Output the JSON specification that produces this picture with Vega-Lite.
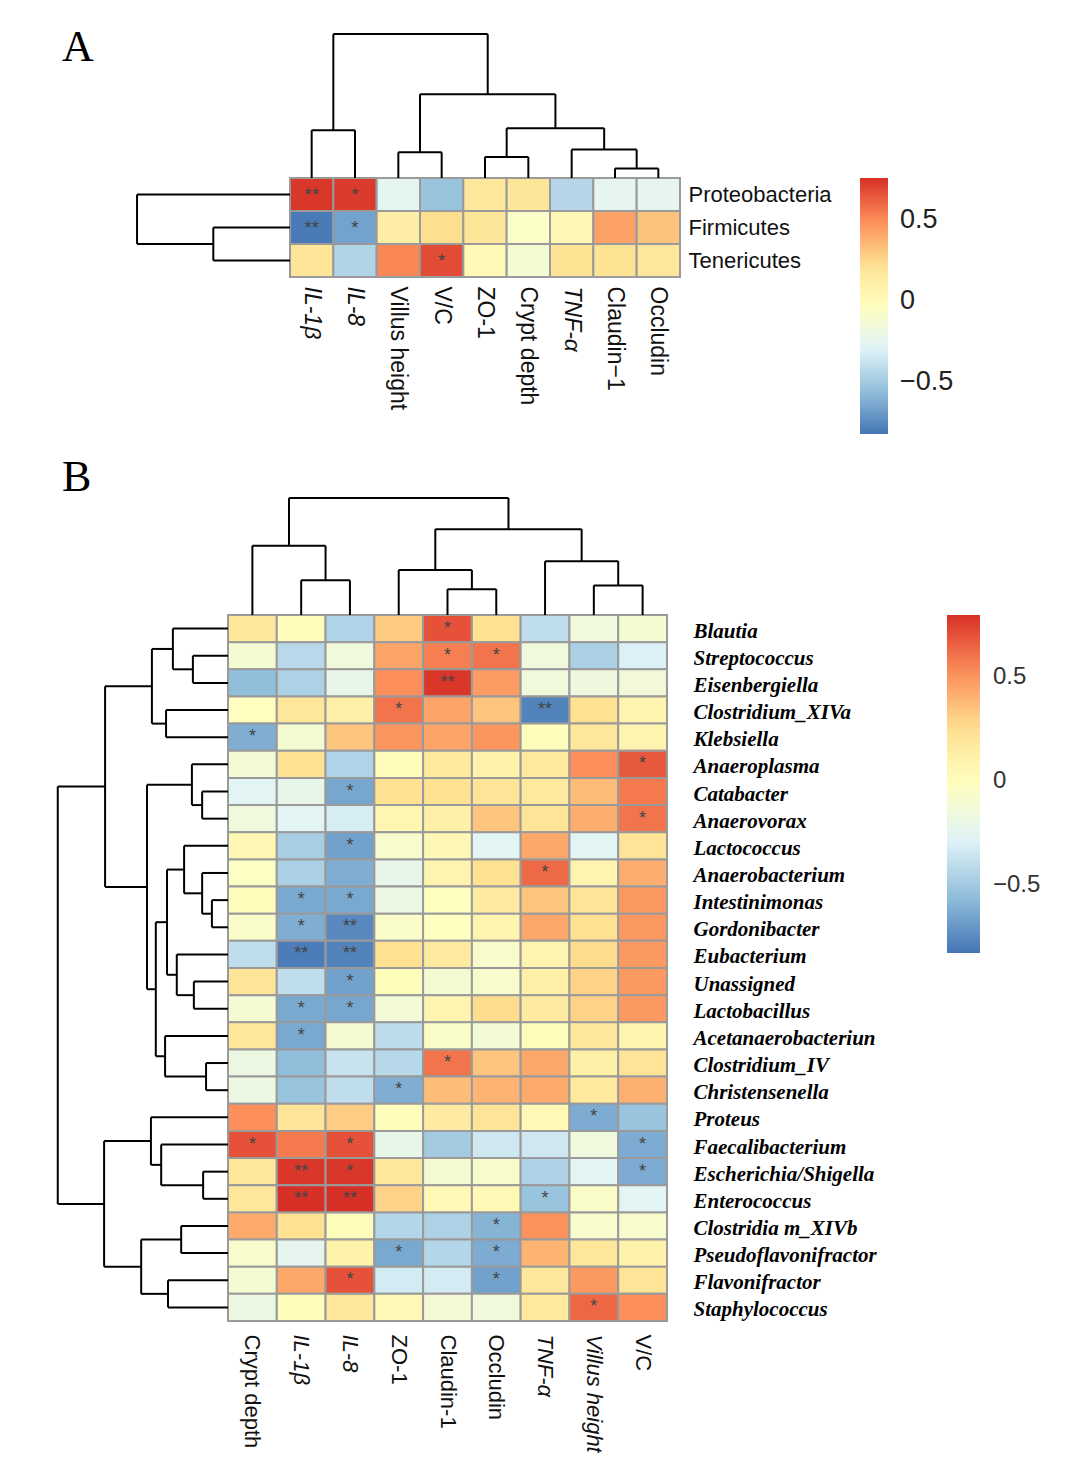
{
  "$schema": "https://vega.github.io/schema/vega-lite/v6.json",
  "background": "white",
  "padding": {"left": 56, "top": 26, "right": 0, "bottom": 0},
  "spacing": 21,
  "config": {"view": {"stroke": null}, "font": "Liberation Sans"},
  "resolve": {"scale": {"color": "independent"}},
  "datasets": {
    "heatA": [
      {"row":"Proteobacteria","col":"IL-1β","v":0.74,"s":"**"},
      {"row":"Proteobacteria","col":"IL-8","v":0.73,"s":"*"},
      {"row":"Proteobacteria","col":"Villus height","v":-0.25,"s":""},
      {"row":"Proteobacteria","col":"V/C","v":-0.53,"s":""},
      {"row":"Proteobacteria","col":"ZO-1","v":0.17,"s":""},
      {"row":"Proteobacteria","col":"Crypt depth","v":0.18,"s":""},
      {"row":"Proteobacteria","col":"TNF-α","v":-0.44,"s":""},
      {"row":"Proteobacteria","col":"Claudin−1","v":-0.24,"s":""},
      {"row":"Proteobacteria","col":"Occludin","v":-0.24,"s":""},
      {"row":"Firmicutes","col":"IL-1β","v":-0.80,"s":"**"},
      {"row":"Firmicutes","col":"IL-8","v":-0.66,"s":"*"},
      {"row":"Firmicutes","col":"Villus height","v":0.12,"s":""},
      {"row":"Firmicutes","col":"V/C","v":0.24,"s":""},
      {"row":"Firmicutes","col":"ZO-1","v":0.18,"s":""},
      {"row":"Firmicutes","col":"Crypt depth","v":-0.06,"s":""},
      {"row":"Firmicutes","col":"TNF-α","v":0.03,"s":""},
      {"row":"Firmicutes","col":"Claudin−1","v":0.43,"s":""},
      {"row":"Firmicutes","col":"Occludin","v":0.33,"s":""},
      {"row":"Tenericutes","col":"IL-1β","v":0.19,"s":""},
      {"row":"Tenericutes","col":"IL-8","v":-0.45,"s":""},
      {"row":"Tenericutes","col":"Villus height","v":0.51,"s":""},
      {"row":"Tenericutes","col":"V/C","v":0.68,"s":"*"},
      {"row":"Tenericutes","col":"ZO-1","v":0.02,"s":""},
      {"row":"Tenericutes","col":"Crypt depth","v":-0.12,"s":""},
      {"row":"Tenericutes","col":"TNF-α","v":0.21,"s":""},
      {"row":"Tenericutes","col":"Claudin−1","v":0.21,"s":""},
      {"row":"Tenericutes","col":"Occludin","v":0.17,"s":""}
    ],
    "dcolA": [
      {"a":0.5,"b":1.5,"ha":0,"hb":0,"h":1.45},
      {"a":2.5,"b":3.5,"ha":0,"hb":0,"h":0.78},
      {"a":4.5,"b":5.5,"ha":0,"hb":0,"h":0.64},
      {"a":7.5,"b":8.5,"ha":0,"hb":0,"h":0.29},
      {"a":6.5,"b":8.0,"ha":0,"hb":0.29,"h":0.86},
      {"a":5.0,"b":7.25,"ha":0.64,"hb":0.86,"h":1.51},
      {"a":3.0,"b":6.125,"ha":0.78,"hb":1.51,"h":2.54},
      {"a":1.0,"b":4.5625,"ha":1.45,"hb":2.54,"h":4.36}
    ],
    "drowA": [
      {"a":1.5,"b":2.5,"ha":0,"hb":0,"h":1.77},
      {"a":0.5,"b":2.0,"ha":0,"hb":1.77,"h":3.53}
    ],
    "dcolB": [
      {"a":1.5,"b":2.5,"ha":0,"hb":0,"h":1.28},
      {"a":0.5,"b":2.0,"ha":0,"hb":1.28,"h":2.55},
      {"a":4.5,"b":5.5,"ha":0,"hb":0,"h":0.95},
      {"a":3.5,"b":5.0,"ha":0,"hb":0.95,"h":1.66},
      {"a":7.5,"b":8.5,"ha":0,"hb":0,"h":1.09},
      {"a":6.5,"b":8.0,"ha":0,"hb":1.09,"h":1.98},
      {"a":4.25,"b":7.25,"ha":1.66,"hb":1.98,"h":3.16},
      {"a":1.25,"b":5.75,"ha":2.55,"hb":3.16,"h":4.31}
    ],
    "drowB": [
      {"a":1.5,"b":2.5,"ha":0,"hb":0,"h":0.72},
      {"a":0.5,"b":2.0,"ha":0,"hb":0.72,"h":1.13},
      {"a":3.5,"b":4.5,"ha":0,"hb":0,"h":1.27},
      {"a":1.25,"b":4.0,"ha":1.13,"hb":1.27,"h":1.56},
      {"a":6.5,"b":7.5,"ha":0,"hb":0,"h":0.53},
      {"a":5.5,"b":7.0,"ha":0,"hb":0.53,"h":0.74},
      {"a":10.5,"b":11.5,"ha":0,"hb":0,"h":0.33},
      {"a":9.5,"b":11.0,"ha":0,"hb":0.33,"h":0.53},
      {"a":8.5,"b":10.25,"ha":0,"hb":0.53,"h":0.90},
      {"a":13.5,"b":14.5,"ha":0,"hb":0,"h":0.70},
      {"a":12.5,"b":14.0,"ha":0,"hb":0.70,"h":1.05},
      {"a":9.375,"b":13.25,"ha":0.90,"hb":1.05,"h":1.25},
      {"a":16.5,"b":17.5,"ha":0,"hb":0,"h":0.45},
      {"a":15.5,"b":17.0,"ha":0,"hb":0.45,"h":1.29},
      {"a":11.3125,"b":16.25,"ha":1.25,"hb":1.29,"h":1.48},
      {"a":6.25,"b":13.78125,"ha":0.74,"hb":1.48,"h":1.66},
      {"a":2.625,"b":10.015625,"ha":1.56,"hb":1.66,"h":2.52},
      {"a":20.5,"b":21.5,"ha":0,"hb":0,"h":0.51},
      {"a":19.5,"b":21.0,"ha":0,"hb":0.51,"h":1.37},
      {"a":18.5,"b":20.25,"ha":0,"hb":1.37,"h":1.58},
      {"a":22.5,"b":23.5,"ha":0,"hb":0,"h":0.96},
      {"a":24.5,"b":25.5,"ha":0,"hb":0,"h":1.23},
      {"a":23.0,"b":25.0,"ha":0.96,"hb":1.23,"h":1.78},
      {"a":19.375,"b":24.0,"ha":1.58,"hb":1.78,"h":2.54},
      {"a":6.3203,"b":21.6875,"ha":2.52,"hb":2.54,"h":3.49}
    ],
    "heatB": [
      {"row":"Blautia","col":"Crypt depth","v":0.20,"s":""},
      {"row":"Blautia","col":"IL-1β","v":0.00,"s":""},
      {"row":"Blautia","col":"IL-8","v":-0.45,"s":""},
      {"row":"Blautia","col":"ZO-1","v":0.33,"s":""},
      {"row":"Blautia","col":"Claudin-1","v":0.70,"s":"*"},
      {"row":"Blautia","col":"Occludin","v":0.25,"s":""},
      {"row":"Blautia","col":"TNF-α","v":-0.40,"s":""},
      {"row":"Blautia","col":"Villus height","v":-0.15,"s":""},
      {"row":"Blautia","col":"V/C","v":-0.10,"s":""},
      {"row":"Streptococcus","col":"Crypt depth","v":-0.10,"s":""},
      {"row":"Streptococcus","col":"IL-1β","v":-0.42,"s":""},
      {"row":"Streptococcus","col":"IL-8","v":-0.15,"s":""},
      {"row":"Streptococcus","col":"ZO-1","v":0.45,"s":""},
      {"row":"Streptococcus","col":"Claudin-1","v":0.57,"s":"*"},
      {"row":"Streptococcus","col":"Occludin","v":0.60,"s":"*"},
      {"row":"Streptococcus","col":"TNF-α","v":-0.15,"s":""},
      {"row":"Streptococcus","col":"Villus height","v":-0.47,"s":""},
      {"row":"Streptococcus","col":"V/C","v":-0.30,"s":""},
      {"row":"Eisenbergiella","col":"Crypt depth","v":-0.56,"s":""},
      {"row":"Eisenbergiella","col":"IL-1β","v":-0.46,"s":""},
      {"row":"Eisenbergiella","col":"IL-8","v":-0.22,"s":""},
      {"row":"Eisenbergiella","col":"ZO-1","v":0.52,"s":""},
      {"row":"Eisenbergiella","col":"Claudin-1","v":0.78,"s":"**"},
      {"row":"Eisenbergiella","col":"Occludin","v":0.48,"s":""},
      {"row":"Eisenbergiella","col":"TNF-α","v":-0.15,"s":""},
      {"row":"Eisenbergiella","col":"Villus height","v":-0.17,"s":""},
      {"row":"Eisenbergiella","col":"V/C","v":-0.14,"s":""},
      {"row":"Clostridium_XIVa","col":"Crypt depth","v":-0.01,"s":""},
      {"row":"Clostridium_XIVa","col":"IL-1β","v":0.20,"s":""},
      {"row":"Clostridium_XIVa","col":"IL-8","v":0.12,"s":""},
      {"row":"Clostridium_XIVa","col":"ZO-1","v":0.60,"s":"*"},
      {"row":"Clostridium_XIVa","col":"Claudin-1","v":0.45,"s":""},
      {"row":"Clostridium_XIVa","col":"Occludin","v":0.35,"s":""},
      {"row":"Clostridium_XIVa","col":"TNF-α","v":-0.78,"s":"**"},
      {"row":"Clostridium_XIVa","col":"Villus height","v":0.25,"s":""},
      {"row":"Clostridium_XIVa","col":"V/C","v":0.08,"s":""},
      {"row":"Klebsiella","col":"Crypt depth","v":-0.62,"s":"*"},
      {"row":"Klebsiella","col":"IL-1β","v":-0.10,"s":""},
      {"row":"Klebsiella","col":"IL-8","v":0.35,"s":""},
      {"row":"Klebsiella","col":"ZO-1","v":0.50,"s":""},
      {"row":"Klebsiella","col":"Claudin-1","v":0.45,"s":""},
      {"row":"Klebsiella","col":"Occludin","v":0.50,"s":""},
      {"row":"Klebsiella","col":"TNF-α","v":0.00,"s":""},
      {"row":"Klebsiella","col":"Villus height","v":0.20,"s":""},
      {"row":"Klebsiella","col":"V/C","v":0.08,"s":""},
      {"row":"Anaeroplasma","col":"Crypt depth","v":-0.12,"s":""},
      {"row":"Anaeroplasma","col":"IL-1β","v":0.25,"s":""},
      {"row":"Anaeroplasma","col":"IL-8","v":-0.45,"s":""},
      {"row":"Anaeroplasma","col":"ZO-1","v":0.00,"s":""},
      {"row":"Anaeroplasma","col":"Claudin-1","v":0.18,"s":""},
      {"row":"Anaeroplasma","col":"Occludin","v":0.10,"s":""},
      {"row":"Anaeroplasma","col":"TNF-α","v":0.18,"s":""},
      {"row":"Anaeroplasma","col":"Villus height","v":0.52,"s":""},
      {"row":"Anaeroplasma","col":"V/C","v":0.68,"s":"*"},
      {"row":"Catabacter","col":"Crypt depth","v":-0.27,"s":""},
      {"row":"Catabacter","col":"IL-1β","v":-0.22,"s":""},
      {"row":"Catabacter","col":"IL-8","v":-0.65,"s":"*"},
      {"row":"Catabacter","col":"ZO-1","v":0.25,"s":""},
      {"row":"Catabacter","col":"Claudin-1","v":0.25,"s":""},
      {"row":"Catabacter","col":"Occludin","v":0.22,"s":""},
      {"row":"Catabacter","col":"TNF-α","v":0.18,"s":""},
      {"row":"Catabacter","col":"Villus height","v":0.37,"s":""},
      {"row":"Catabacter","col":"V/C","v":0.58,"s":""},
      {"row":"Anaerovorax","col":"Crypt depth","v":-0.15,"s":""},
      {"row":"Anaerovorax","col":"IL-1β","v":-0.27,"s":""},
      {"row":"Anaerovorax","col":"IL-8","v":-0.32,"s":""},
      {"row":"Anaerovorax","col":"ZO-1","v":0.06,"s":""},
      {"row":"Anaerovorax","col":"Claudin-1","v":0.12,"s":""},
      {"row":"Anaerovorax","col":"Occludin","v":0.35,"s":""},
      {"row":"Anaerovorax","col":"TNF-α","v":0.22,"s":""},
      {"row":"Anaerovorax","col":"Villus height","v":0.42,"s":""},
      {"row":"Anaerovorax","col":"V/C","v":0.60,"s":"*"},
      {"row":"Lactococcus","col":"Crypt depth","v":0.05,"s":""},
      {"row":"Lactococcus","col":"IL-1β","v":-0.48,"s":""},
      {"row":"Lactococcus","col":"IL-8","v":-0.67,"s":"*"},
      {"row":"Lactococcus","col":"ZO-1","v":-0.08,"s":""},
      {"row":"Lactococcus","col":"Claudin-1","v":0.05,"s":""},
      {"row":"Lactococcus","col":"Occludin","v":-0.27,"s":""},
      {"row":"Lactococcus","col":"TNF-α","v":0.44,"s":""},
      {"row":"Lactococcus","col":"Villus height","v":-0.27,"s":""},
      {"row":"Lactococcus","col":"V/C","v":0.22,"s":""},
      {"row":"Anaerobacterium","col":"Crypt depth","v":-0.04,"s":""},
      {"row":"Anaerobacterium","col":"IL-1β","v":-0.47,"s":""},
      {"row":"Anaerobacterium","col":"IL-8","v":-0.62,"s":""},
      {"row":"Anaerobacterium","col":"ZO-1","v":-0.22,"s":""},
      {"row":"Anaerobacterium","col":"Claudin-1","v":0.08,"s":""},
      {"row":"Anaerobacterium","col":"Occludin","v":0.25,"s":""},
      {"row":"Anaerobacterium","col":"TNF-α","v":0.63,"s":"*"},
      {"row":"Anaerobacterium","col":"Villus height","v":0.08,"s":""},
      {"row":"Anaerobacterium","col":"V/C","v":0.42,"s":""},
      {"row":"Intestinimonas","col":"Crypt depth","v":0.00,"s":""},
      {"row":"Intestinimonas","col":"IL-1β","v":-0.64,"s":"*"},
      {"row":"Intestinimonas","col":"IL-8","v":-0.64,"s":"*"},
      {"row":"Intestinimonas","col":"ZO-1","v":-0.18,"s":""},
      {"row":"Intestinimonas","col":"Claudin-1","v":-0.02,"s":""},
      {"row":"Intestinimonas","col":"Occludin","v":0.16,"s":""},
      {"row":"Intestinimonas","col":"TNF-α","v":0.35,"s":""},
      {"row":"Intestinimonas","col":"Villus height","v":0.22,"s":""},
      {"row":"Intestinimonas","col":"V/C","v":0.49,"s":""},
      {"row":"Gordonibacter","col":"Crypt depth","v":-0.06,"s":""},
      {"row":"Gordonibacter","col":"IL-1β","v":-0.62,"s":"*"},
      {"row":"Gordonibacter","col":"IL-8","v":-0.76,"s":"**"},
      {"row":"Gordonibacter","col":"ZO-1","v":-0.06,"s":""},
      {"row":"Gordonibacter","col":"Claudin-1","v":-0.02,"s":""},
      {"row":"Gordonibacter","col":"Occludin","v":0.08,"s":""},
      {"row":"Gordonibacter","col":"TNF-α","v":0.44,"s":""},
      {"row":"Gordonibacter","col":"Villus height","v":0.25,"s":""},
      {"row":"Gordonibacter","col":"V/C","v":0.49,"s":""},
      {"row":"Eubacterium","col":"Crypt depth","v":-0.40,"s":""},
      {"row":"Eubacterium","col":"IL-1β","v":-0.80,"s":"**"},
      {"row":"Eubacterium","col":"IL-8","v":-0.78,"s":"**"},
      {"row":"Eubacterium","col":"ZO-1","v":0.25,"s":""},
      {"row":"Eubacterium","col":"Claudin-1","v":0.17,"s":""},
      {"row":"Eubacterium","col":"Occludin","v":-0.08,"s":""},
      {"row":"Eubacterium","col":"TNF-α","v":0.08,"s":""},
      {"row":"Eubacterium","col":"Villus height","v":0.27,"s":""},
      {"row":"Eubacterium","col":"V/C","v":0.49,"s":""},
      {"row":"Unassigned","col":"Crypt depth","v":0.22,"s":""},
      {"row":"Unassigned","col":"IL-1β","v":-0.40,"s":""},
      {"row":"Unassigned","col":"IL-8","v":-0.67,"s":"*"},
      {"row":"Unassigned","col":"ZO-1","v":0.00,"s":""},
      {"row":"Unassigned","col":"Claudin-1","v":-0.11,"s":""},
      {"row":"Unassigned","col":"Occludin","v":-0.08,"s":""},
      {"row":"Unassigned","col":"TNF-α","v":0.12,"s":""},
      {"row":"Unassigned","col":"Villus height","v":0.30,"s":""},
      {"row":"Unassigned","col":"V/C","v":0.49,"s":""},
      {"row":"Lactobacillus","col":"Crypt depth","v":-0.11,"s":""},
      {"row":"Lactobacillus","col":"IL-1β","v":-0.64,"s":"*"},
      {"row":"Lactobacillus","col":"IL-8","v":-0.65,"s":"*"},
      {"row":"Lactobacillus","col":"ZO-1","v":-0.13,"s":""},
      {"row":"Lactobacillus","col":"Claudin-1","v":0.08,"s":""},
      {"row":"Lactobacillus","col":"Occludin","v":0.27,"s":""},
      {"row":"Lactobacillus","col":"TNF-α","v":0.16,"s":""},
      {"row":"Lactobacillus","col":"Villus height","v":0.30,"s":""},
      {"row":"Lactobacillus","col":"V/C","v":0.49,"s":""},
      {"row":"Acetanaerobacteriun","col":"Crypt depth","v":0.20,"s":""},
      {"row":"Acetanaerobacteriun","col":"IL-1β","v":-0.64,"s":"*"},
      {"row":"Acetanaerobacteriun","col":"IL-8","v":-0.11,"s":""},
      {"row":"Acetanaerobacteriun","col":"ZO-1","v":-0.41,"s":""},
      {"row":"Acetanaerobacteriun","col":"Claudin-1","v":-0.06,"s":""},
      {"row":"Acetanaerobacteriun","col":"Occludin","v":-0.13,"s":""},
      {"row":"Acetanaerobacteriun","col":"TNF-α","v":0.00,"s":""},
      {"row":"Acetanaerobacteriun","col":"Villus height","v":0.20,"s":""},
      {"row":"Acetanaerobacteriun","col":"V/C","v":0.08,"s":""},
      {"row":"Clostridium_IV","col":"Crypt depth","v":-0.18,"s":""},
      {"row":"Clostridium_IV","col":"IL-1β","v":-0.56,"s":""},
      {"row":"Clostridium_IV","col":"IL-8","v":-0.37,"s":""},
      {"row":"Clostridium_IV","col":"ZO-1","v":-0.43,"s":""},
      {"row":"Clostridium_IV","col":"Claudin-1","v":0.60,"s":"*"},
      {"row":"Clostridium_IV","col":"Occludin","v":0.35,"s":""},
      {"row":"Clostridium_IV","col":"TNF-α","v":0.44,"s":""},
      {"row":"Clostridium_IV","col":"Villus height","v":0.12,"s":""},
      {"row":"Clostridium_IV","col":"V/C","v":0.22,"s":""},
      {"row":"Christensenella","col":"Crypt depth","v":-0.18,"s":""},
      {"row":"Christensenella","col":"IL-1β","v":-0.53,"s":""},
      {"row":"Christensenella","col":"IL-8","v":-0.40,"s":""},
      {"row":"Christensenella","col":"ZO-1","v":-0.62,"s":"*"},
      {"row":"Christensenella","col":"Claudin-1","v":0.37,"s":""},
      {"row":"Christensenella","col":"Occludin","v":0.40,"s":""},
      {"row":"Christensenella","col":"TNF-α","v":0.43,"s":""},
      {"row":"Christensenella","col":"Villus height","v":0.18,"s":""},
      {"row":"Christensenella","col":"V/C","v":0.41,"s":""},
      {"row":"Proteus","col":"Crypt depth","v":0.52,"s":""},
      {"row":"Proteus","col":"IL-1β","v":0.22,"s":""},
      {"row":"Proteus","col":"IL-8","v":0.32,"s":""},
      {"row":"Proteus","col":"ZO-1","v":0.00,"s":""},
      {"row":"Proteus","col":"Claudin-1","v":0.16,"s":""},
      {"row":"Proteus","col":"Occludin","v":0.22,"s":""},
      {"row":"Proteus","col":"TNF-α","v":0.04,"s":""},
      {"row":"Proteus","col":"Villus height","v":-0.63,"s":"*"},
      {"row":"Proteus","col":"V/C","v":-0.53,"s":""},
      {"row":"Faecalibacterium","col":"Crypt depth","v":0.70,"s":"*"},
      {"row":"Faecalibacterium","col":"IL-1β","v":0.58,"s":""},
      {"row":"Faecalibacterium","col":"IL-8","v":0.70,"s":"*"},
      {"row":"Faecalibacterium","col":"ZO-1","v":-0.22,"s":""},
      {"row":"Faecalibacterium","col":"Claudin-1","v":-0.50,"s":""},
      {"row":"Faecalibacterium","col":"Occludin","v":-0.35,"s":""},
      {"row":"Faecalibacterium","col":"TNF-α","v":-0.35,"s":""},
      {"row":"Faecalibacterium","col":"Villus height","v":-0.16,"s":""},
      {"row":"Faecalibacterium","col":"V/C","v":-0.63,"s":"*"},
      {"row":"Escherichia/Shigella","col":"Crypt depth","v":0.20,"s":""},
      {"row":"Escherichia/Shigella","col":"IL-1β","v":0.78,"s":"**"},
      {"row":"Escherichia/Shigella","col":"IL-8","v":0.78,"s":"*"},
      {"row":"Escherichia/Shigella","col":"ZO-1","v":0.20,"s":""},
      {"row":"Escherichia/Shigella","col":"Claudin-1","v":-0.10,"s":""},
      {"row":"Escherichia/Shigella","col":"Occludin","v":-0.08,"s":""},
      {"row":"Escherichia/Shigella","col":"TNF-α","v":-0.46,"s":""},
      {"row":"Escherichia/Shigella","col":"Villus height","v":-0.27,"s":""},
      {"row":"Escherichia/Shigella","col":"V/C","v":-0.63,"s":"*"},
      {"row":"Enterococcus","col":"Crypt depth","v":0.20,"s":""},
      {"row":"Enterococcus","col":"IL-1β","v":0.80,"s":"**"},
      {"row":"Enterococcus","col":"IL-8","v":0.80,"s":"**"},
      {"row":"Enterococcus","col":"ZO-1","v":0.30,"s":""},
      {"row":"Enterococcus","col":"Claudin-1","v":0.04,"s":""},
      {"row":"Enterococcus","col":"Occludin","v":0.04,"s":""},
      {"row":"Enterococcus","col":"TNF-α","v":-0.53,"s":"*"},
      {"row":"Enterococcus","col":"Villus height","v":-0.06,"s":""},
      {"row":"Enterococcus","col":"V/C","v":-0.27,"s":""},
      {"row":"Clostridia m_XIVb","col":"Crypt depth","v":0.43,"s":""},
      {"row":"Clostridia m_XIVb","col":"IL-1β","v":0.25,"s":""},
      {"row":"Clostridia m_XIVb","col":"IL-8","v":0.00,"s":""},
      {"row":"Clostridia m_XIVb","col":"ZO-1","v":-0.44,"s":""},
      {"row":"Clostridia m_XIVb","col":"Claudin-1","v":-0.46,"s":""},
      {"row":"Clostridia m_XIVb","col":"Occludin","v":-0.60,"s":"*"},
      {"row":"Clostridia m_XIVb","col":"TNF-α","v":0.51,"s":""},
      {"row":"Clostridia m_XIVb","col":"Villus height","v":-0.08,"s":""},
      {"row":"Clostridia m_XIVb","col":"V/C","v":-0.08,"s":""},
      {"row":"Pseudoflavonifractor","col":"Crypt depth","v":-0.08,"s":""},
      {"row":"Pseudoflavonifractor","col":"IL-1β","v":-0.24,"s":""},
      {"row":"Pseudoflavonifractor","col":"IL-8","v":0.10,"s":""},
      {"row":"Pseudoflavonifractor","col":"ZO-1","v":-0.64,"s":"*"},
      {"row":"Pseudoflavonifractor","col":"Claudin-1","v":-0.44,"s":""},
      {"row":"Pseudoflavonifractor","col":"Occludin","v":-0.63,"s":"*"},
      {"row":"Pseudoflavonifractor","col":"TNF-α","v":0.40,"s":""},
      {"row":"Pseudoflavonifractor","col":"Villus height","v":0.20,"s":""},
      {"row":"Pseudoflavonifractor","col":"V/C","v":0.10,"s":""},
      {"row":"Flavonifractor","col":"Crypt depth","v":-0.10,"s":""},
      {"row":"Flavonifractor","col":"IL-1β","v":0.44,"s":""},
      {"row":"Flavonifractor","col":"IL-8","v":0.70,"s":"*"},
      {"row":"Flavonifractor","col":"ZO-1","v":-0.33,"s":""},
      {"row":"Flavonifractor","col":"Claudin-1","v":-0.33,"s":""},
      {"row":"Flavonifractor","col":"Occludin","v":-0.67,"s":"*"},
      {"row":"Flavonifractor","col":"TNF-α","v":0.20,"s":""},
      {"row":"Flavonifractor","col":"Villus height","v":0.49,"s":""},
      {"row":"Flavonifractor","col":"V/C","v":0.22,"s":""},
      {"row":"Staphylococcus","col":"Crypt depth","v":-0.18,"s":""},
      {"row":"Staphylococcus","col":"IL-1β","v":0.00,"s":""},
      {"row":"Staphylococcus","col":"IL-8","v":0.20,"s":""},
      {"row":"Staphylococcus","col":"ZO-1","v":0.04,"s":""},
      {"row":"Staphylococcus","col":"Claudin-1","v":-0.12,"s":""},
      {"row":"Staphylococcus","col":"Occludin","v":-0.15,"s":""},
      {"row":"Staphylococcus","col":"TNF-α","v":0.18,"s":""},
      {"row":"Staphylococcus","col":"Villus height","v":0.64,"s":"*"},
      {"row":"Staphylococcus","col":"V/C","v":0.52,"s":""}
    ]
  },
  "vconcat": [
    {
      "title": {"text": "A", "anchor": "start", "frame": "group", "dx": -166, "dy": 37, "offset": 0, "font": "Liberation Serif", "fontSize": 44, "fontWeight": "normal", "color": "#000"},
      "width": 452,
      "height": 99,
      "resolve": {"scale": {"x": "independent", "y": "independent"}},
      "layer": [
        {
          "data": {"name": "heatA"},
          "encoding": {
            "x": {"field": "col", "type": "nominal", "sort": ["IL-1β","IL-8","Villus height","V/C","ZO-1","Crypt depth","TNF-α","Claudin−1","Occludin"],
              "scale": {"paddingInner": 0, "paddingOuter": 0.7154, "align": 1},
              "axis": {"orient": "bottom", "title": null, "domain": false, "ticks": false, "labelAngle": 90, "labelAlign": "left", "labelBaseline": "middle", "labelPadding": 9, "labelFontSize": 23, "labelFont": "Liberation Sans", "labelColor": "#111", "labelLimit": 0,
                "labelFontStyle": {"condition": {"test": "indexof(['IL-1β','IL-8','TNF-α'], datum.value) >= 0", "value": "italic"}, "value": "normal"}}},
            "y": {"field": "row", "type": "nominal", "sort": ["Proteobacteria","Firmicutes","Tenericutes"],
              "scale": {"paddingInner": 0, "paddingOuter": 0},
              "axis": {"orient": "right", "title": null, "domain": false, "ticks": false, "labelPadding": 8, "labelFontSize": 22, "labelFont": "Liberation Sans", "labelColor": "#111", "labelLimit": 0}}
          },
          "layer": [
            {"mark": {"type": "rect", "stroke": "#9a9a9a", "strokeWidth": 2},
             "encoding": {"color": {"field": "v", "type": "quantitative",
               "scale": {"type": "linear", "domain": [-0.82, -0.557, -0.293, -0.03, 0.233, 0.497, 0.76], "range": ["#4575b4","#91bfdb","#e0f3f8","#ffffbf","#fee090","#fc8d59","#d73027"], "interpolate": "rgb", "nice": false, "zero": false},
               "legend": {"orient": "none", "legendX": 632, "legendY": 0, "direction": "vertical", "gradientLength": 256, "gradientThickness": 28, "values": [-0.5, 0, 0.5], "format": ".1~f", "title": null, "padding": 0, "labelFontSize": 27, "labelFont": "Liberation Sans", "labelColor": "#222", "labelOffset": 12, "gradientStrokeWidth": 0}}}},
            {"mark": {"type": "text", "color": "#444444", "fontSize": 19, "font": "Liberation Sans", "baseline": "middle", "align": "center"},
             "encoding": {"text": {"field": "s"}}}
          ]
        },
        {
          "data": {"name": "dcolA"},
          "layer": [
            {"mark": {"type": "rule", "color": "#000", "strokeWidth": 2},
             "encoding": {"x": {"field": "a", "type": "quantitative", "scale": {"domain": [-1.4308, 9], "nice": false, "zero": false}, "axis": null},
                          "y": {"field": "ha", "type": "quantitative", "scale": {"domain": [-3, 0], "nice": false, "zero": false}, "axis": null},
                          "y2": {"field": "h"}}},
            {"mark": {"type": "rule", "color": "#000", "strokeWidth": 2},
             "encoding": {"x": {"field": "b", "type": "quantitative", "scale": {"domain": [-1.4308, 9], "nice": false, "zero": false}, "axis": null},
                          "y": {"field": "hb", "type": "quantitative", "scale": {"domain": [-3, 0], "nice": false, "zero": false}, "axis": null},
                          "y2": {"field": "h"}}},
            {"mark": {"type": "rule", "color": "#000", "strokeWidth": 2},
             "encoding": {"x": {"field": "a", "type": "quantitative", "scale": {"domain": [-1.4308, 9], "nice": false, "zero": false}, "axis": null},
                          "x2": {"field": "b"},
                          "y": {"field": "h", "type": "quantitative", "scale": {"domain": [-3, 0], "nice": false, "zero": false}, "axis": null}}}
          ]
        },
        {
          "data": {"name": "drowA"},
          "layer": [
            {"mark": {"type": "rule", "color": "#000", "strokeWidth": 2},
             "encoding": {"y": {"field": "a", "type": "quantitative", "scale": {"domain": [0, 3], "reverse": true, "nice": false, "zero": false}, "axis": null},
                          "x": {"field": "ha", "type": "quantitative", "scale": {"domain": [-9, 1.4308], "reverse": true, "nice": false, "zero": false}, "axis": null},
                          "x2": {"field": "h"}}},
            {"mark": {"type": "rule", "color": "#000", "strokeWidth": 2},
             "encoding": {"y": {"field": "b", "type": "quantitative", "scale": {"domain": [0, 3], "reverse": true, "nice": false, "zero": false}, "axis": null},
                          "x": {"field": "hb", "type": "quantitative", "scale": {"domain": [-9, 1.4308], "reverse": true, "nice": false, "zero": false}, "axis": null},
                          "x2": {"field": "h"}}},
            {"mark": {"type": "rule", "color": "#000", "strokeWidth": 2},
             "encoding": {"y": {"field": "a", "type": "quantitative", "scale": {"domain": [0, 3], "reverse": true, "nice": false, "zero": false}, "axis": null},
                          "y2": {"field": "b"},
                          "x": {"field": "h", "type": "quantitative", "scale": {"domain": [-9, 1.4308], "reverse": true, "nice": false, "zero": false}, "axis": null}}}
          ]
        }
      ]
    },
    {
      "title": {"text": "B", "anchor": "start", "frame": "group", "dx": -166, "dy": 3, "offset": 0, "font": "Liberation Serif", "fontSize": 44, "fontWeight": "normal", "color": "#000"},
      "width": 439,
      "height": 706,
      "resolve": {"scale": {"x": "independent", "y": "independent"}},
      "layer": [
        {
          "data": {"name": "heatB"},
          "encoding": {
            "x": {"field": "col", "type": "nominal", "sort": ["Crypt depth","IL-1β","IL-8","ZO-1","Claudin-1","Occludin","TNF-α","Villus height","V/C"],
              "scale": {"paddingInner": 0, "paddingOuter": 0},
              "axis": {"orient": "bottom", "title": null, "domain": false, "ticks": false, "labelAngle": 90, "labelAlign": "left", "labelBaseline": "middle", "labelPadding": 13, "labelFontSize": 22, "labelFont": "Liberation Sans", "labelColor": "#111", "labelLimit": 0,
                "labelFontStyle": {"condition": {"test": "indexof(['IL-1β','IL-8','TNF-α','Villus height'], datum.value) >= 0", "value": "italic"}, "value": "normal"}}},
            "y": {"field": "row", "type": "nominal", "sort": ["Blautia","Streptococcus","Eisenbergiella","Clostridium_XIVa","Klebsiella","Anaeroplasma","Catabacter","Anaerovorax","Lactococcus","Anaerobacterium","Intestinimonas","Gordonibacter","Eubacterium","Unassigned","Lactobacillus","Acetanaerobacteriun","Clostridium_IV","Christensenella","Proteus","Faecalibacterium","Escherichia/Shigella","Enterococcus","Clostridia m_XIVb","Pseudoflavonifractor","Flavonifractor","Staphylococcus"],
              "scale": {"paddingInner": 0, "paddingOuter": 0},
              "axis": {"orient": "right", "title": null, "domain": false, "ticks": false, "labelPadding": 26, "labelOffset": 3, "labelFontSize": 21, "labelFont": "Liberation Serif", "labelFontWeight": "bold", "labelFontStyle": "italic", "labelColor": "#000", "labelLimit": 0}}
          },
          "layer": [
            {"mark": {"type": "rect", "stroke": "#9a9a9a", "strokeWidth": 2},
             "encoding": {"color": {"field": "v", "type": "quantitative",
               "scale": {"type": "linear", "domain": [-0.83, -0.558, -0.287, -0.015, 0.257, 0.528, 0.80], "range": ["#4575b4","#91bfdb","#e0f3f8","#ffffbf","#fee090","#fc8d59","#d73027"], "interpolate": "rgb", "nice": false, "zero": false},
               "legend": {"orient": "none", "legendX": 719, "legendY": 0, "direction": "vertical", "gradientLength": 338, "gradientThickness": 33, "values": [-0.5, 0, 0.5], "format": ".1~f", "title": null, "padding": 0, "labelFontSize": 24, "labelFont": "Liberation Sans", "labelColor": "#333", "labelOffset": 13, "gradientStrokeWidth": 0}}}},
            {"mark": {"type": "text", "color": "#444444", "fontSize": 18, "font": "Liberation Sans", "baseline": "middle", "align": "center"},
             "encoding": {"text": {"field": "s"}}}
          ]
        },
        {
          "data": {"name": "dcolB"},
          "layer": [
            {"mark": {"type": "rule", "color": "#000", "strokeWidth": 2},
             "encoding": {"x": {"field": "a", "type": "quantitative", "scale": {"domain": [0, 9], "nice": false, "zero": false}, "axis": null},
                          "y": {"field": "ha", "type": "quantitative", "scale": {"domain": [-26, 0], "nice": false, "zero": false}, "axis": null},
                          "y2": {"field": "h"}}},
            {"mark": {"type": "rule", "color": "#000", "strokeWidth": 2},
             "encoding": {"x": {"field": "b", "type": "quantitative", "scale": {"domain": [0, 9], "nice": false, "zero": false}, "axis": null},
                          "y": {"field": "hb", "type": "quantitative", "scale": {"domain": [-26, 0], "nice": false, "zero": false}, "axis": null},
                          "y2": {"field": "h"}}},
            {"mark": {"type": "rule", "color": "#000", "strokeWidth": 2},
             "encoding": {"x": {"field": "a", "type": "quantitative", "scale": {"domain": [0, 9], "nice": false, "zero": false}, "axis": null},
                          "x2": {"field": "b"},
                          "y": {"field": "h", "type": "quantitative", "scale": {"domain": [-26, 0], "nice": false, "zero": false}, "axis": null}}}
          ]
        },
        {
          "data": {"name": "drowB"},
          "layer": [
            {"mark": {"type": "rule", "color": "#000", "strokeWidth": 2},
             "encoding": {"y": {"field": "a", "type": "quantitative", "scale": {"domain": [0, 26], "reverse": true, "nice": false, "zero": false}, "axis": null},
                          "x": {"field": "ha", "type": "quantitative", "scale": {"domain": [-9, 0], "reverse": true, "nice": false, "zero": false}, "axis": null},
                          "x2": {"field": "h"}}},
            {"mark": {"type": "rule", "color": "#000", "strokeWidth": 2},
             "encoding": {"y": {"field": "b", "type": "quantitative", "scale": {"domain": [0, 26], "reverse": true, "nice": false, "zero": false}, "axis": null},
                          "x": {"field": "hb", "type": "quantitative", "scale": {"domain": [-9, 0], "reverse": true, "nice": false, "zero": false}, "axis": null},
                          "x2": {"field": "h"}}},
            {"mark": {"type": "rule", "color": "#000", "strokeWidth": 2},
             "encoding": {"y": {"field": "a", "type": "quantitative", "scale": {"domain": [0, 26], "reverse": true, "nice": false, "zero": false}, "axis": null},
                          "y2": {"field": "b"},
                          "x": {"field": "h", "type": "quantitative", "scale": {"domain": [-9, 0], "reverse": true, "nice": false, "zero": false}, "axis": null}}}
          ]
        }
      ]
    }
  ]
}
